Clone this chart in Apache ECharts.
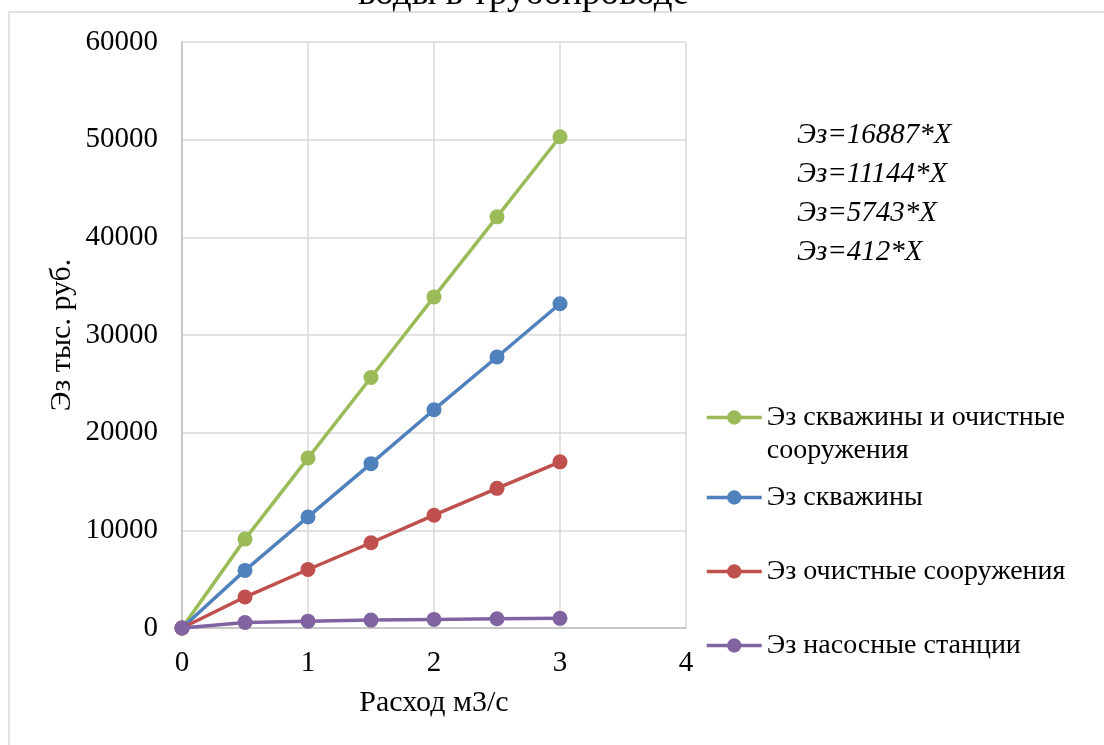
<!DOCTYPE html>
<html>
<head>
<meta charset="utf-8">
<script src="https://cdn.jsdelivr.net/npm/echarts@6/dist/echarts.min.js"></script>
<style>
  html, body { margin: 0; padding: 0; background: #fff; }
  #chart { width: 1104px; height: 745px; }
</style>
</head>
<body>
<div id="chart"></div>
<script>
// расход, м3/с
var flow = [0, 0.5, 1, 1.5, 2, 2.5, 3]
// Эз, тыс. руб.
var wellsAndTreatment = [0, 9100, 17400, 25650, 33900, 42100, 50300]
var wells = [0, 5900, 11370, 16830, 22350, 27750, 33200]
var treatment = [0, 3170, 5990, 8730, 11550, 14300, 17010]
var pumping = [0, 560, 700, 810, 880, 950, 990]

var seriesNames = [
  'Эз скважины и очистные сооружения',
  'Эз скважины',
  'Эз очистные сооружения',
  'Эз насосные станции'
]
var seriesValues = [wellsAndTreatment, wells, treatment, pumping]
var colors = ['#9BBB59', '#4F81BD', '#C0504D', '#8064A2']
var equations = ['Эз=16887*X', 'Эз=11144*X', 'Эз=5743*X', 'Эз=412*X']

var font = '"Liberation Serif", "Times New Roman", serif'

function pairs(xs, ys) {
  return xs.map(function (x, i) { return [x, ys[i]] })
}

var chart = echarts.init(document.getElementById('chart'))

// каждая запись легенды отдельно, чтобы поставить их как в оригинале
var legendTops = [368, 481, 555, 629]
var legends = seriesNames.map(function (name, i) {
  return {
    data: [name],
    orient: 'vertical',
    left: 705,
    top: legendTops[i],
    padding: 0,
    itemWidth: 55,
    itemHeight: 18,
    itemGap: 0,
    lineStyle: { width: 3.5 },
    // пустая первая строка: иконка встаёт напротив первой строки текста
    formatter: i === 0 ? function () { return '\nЭз скважины и очистные\nсооружения' } : null,
    textStyle: {
      fontFamily: font,
      fontSize: 28,
      color: '#000',
      lineHeight: 33
    }
  }
})

chart.setOption({
  animation: false,
  backgroundColor: '#fff',
  color: colors,
  title: {
    text: 'воды в трубопроводе',
    left: 358,
    top: -24,
    padding: 0,
    textStyle: {
      fontFamily: font,
      fontSize: 37,
      fontWeight: 'normal',
      color: '#000'
    }
  },
  graphic: [
    {
      type: 'rect',
      z: -10,
      silent: true,
      shape: { x: 9, y: 12, width: 1110, height: 760 },
      style: { fill: null, stroke: '#d9d9d9', lineWidth: 1.5 }
    }
  ].concat(equations.map(function (t, i) {
    return {
      type: 'text',
      x: 797,
      y: 135 + i * 39,
      style: {
        text: t,
        fontFamily: font,
        fontSize: 29,
        fontStyle: 'italic',
        fill: '#000',
        verticalAlign: 'middle'
      }
    }
  })),
  legend: legends,
  grid: {
    left: 182,
    right: 418,
    top: 42,
    bottom: 117,
    containLabel: false
  },
  xAxis: {
    type: 'value',
    min: 0,
    max: 4,
    interval: 1,
    name: 'Расход м3/с',
    nameLocation: 'middle',
    nameGap: 60,
    nameTextStyle: { fontFamily: font, fontSize: 30, color: '#000' },
    axisLine: { show: true, lineStyle: { color: '#bfbfbf', width: 1.5 } },
    axisTick: { show: false },
    axisLabel: { fontFamily: font, fontSize: 29, color: '#000', margin: 21 },
    splitLine: { show: true, lineStyle: { color: '#d9d9d9', width: 1.5 } }
  },
  yAxis: {
    type: 'value',
    min: 0,
    max: 60000,
    interval: 10000,
    name: 'Эз тыс. руб.',
    nameLocation: 'middle',
    nameGap: 105,
    nameTextStyle: { fontFamily: font, fontSize: 30, color: '#000' },
    axisLine: { show: true, lineStyle: { color: '#bfbfbf', width: 1.5 } },
    axisTick: { show: false },
    axisLabel: {
      fontFamily: font,
      fontSize: 29,
      color: '#000',
      margin: 24,
      formatter: function (v) { return String(v) }
    },
    splitLine: { show: true, lineStyle: { color: '#d9d9d9', width: 1.5 } }
  },
  series: seriesNames.map(function (name, i) {
    return {
      name: name,
      type: 'line',
      data: pairs(flow, seriesValues[i]),
      symbol: 'circle',
      symbolSize: 15,
      showSymbol: true,
      lineStyle: { width: 3.5, color: colors[i] },
      itemStyle: { color: colors[i] },
      z: 2 + i
    }
  })
})
</script>
</body>
</html>
